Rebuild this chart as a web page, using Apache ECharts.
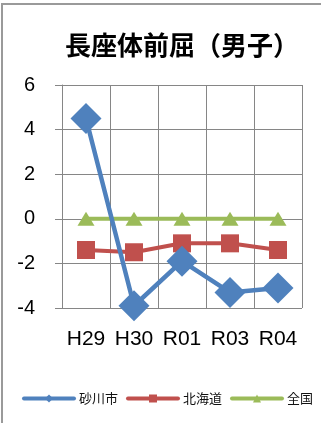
<!DOCTYPE html>
<html>
<head>
<meta charset="utf-8">
<style>
  html, body { margin: 0; padding: 0; background: #fff; }
  #chart { width: 321px; height: 423px; }
</style>
<script src="https://cdn.jsdelivr.net/npm/echarts@6/dist/echarts.min.js"></script>
</head>
<body>
<div id="chart"></div>
<script>
// 長座体前屈（男子）: 全国平均との差
const years = ['H29', 'H30', 'R01', 'R03', 'R04'];
const sunagawa = [4.5, -3.9, -1.9, -3.3, -3.1];
const hokkaido = [-1.4, -1.5, -1.1, -1.1, -1.4];
const zenkoku = [0, 0, 0, 0, 0];
const yTicks = { min: -4, max: 6, interval: 2 };

const chart = echarts.init(document.getElementById('chart'));
const font = '"Liberation Sans", "Noto Sans CJK JP", sans-serif';
const jpFont = '"Noto Sans CJK JP", sans-serif';

chart.setOption({
  animation: false,
  backgroundColor: '#fff',
  title: {
    text: '長座体前屈（男子）',
    left: 60,
    top: 27,
    textStyle: { fontFamily: jpFont, fontSize: 26, fontWeight: 'bold', color: '#000' }
  },
  graphic: [{
    type: 'rect',
    shape: { x: 2, y: 4, width: 340, height: 440 },
    style: { fill: 'none', stroke: '#9a9a9a', lineWidth: 2 },
    silent: true
  }],
  grid: { left: 62, right: 19, top: 85, bottom: 115 },
  legend: {
    bottom: 18,
    left: 22,
    width: 300,
    padding: 0,
    itemWidth: 50,
    itemHeight: 10,
    itemGap: 8,
    lineStyle: { width: 4, cap: 'round' },
    textStyle: { fontFamily: jpFont, fontSize: 13, color: '#111' },
    data: ['砂川市', '北海道', '全国']
  },
  xAxis: {
    type: 'category',
    data: years,
    boundaryGap: true,
    axisLine: { lineStyle: { color: '#868686', width: 1 } },
    axisTick: { show: false },
    splitLine: { show: true, interval: 0, lineStyle: { color: '#868686', width: 1 } },
    axisLabel: { interval: 0, fontFamily: font, fontSize: 21, color: '#000', margin: 21 }
  },
  yAxis: {
    type: 'value',
    min: yTicks.min,
    max: yTicks.max,
    interval: yTicks.interval,
    axisLine: { show: true, lineStyle: { color: '#868686', width: 1 } },
    axisTick: { show: true, inside: false, length: 7, lineStyle: { color: '#868686' } },
    splitLine: { show: true, lineStyle: { color: '#868686', width: 1 } },
    axisLabel: { fontFamily: font, fontSize: 20, color: '#000', margin: 27 }
  },
  series: [
    {
      name: '全国',
      type: 'line',
      data: zenkoku,
      symbol: 'triangle',
      symbolSize: [17, 14],
      z: 2,
      lineStyle: { color: '#9BBB59', width: 4 },
      itemStyle: { color: '#9BBB59' }
    },
    {
      name: '北海道',
      type: 'line',
      data: hokkaido,
      symbol: 'rect',
      symbolSize: 18,
      z: 3,
      lineStyle: { color: '#C0504D', width: 4 },
      itemStyle: { color: '#C0504D' }
    },
    {
      name: '砂川市',
      type: 'line',
      data: sunagawa,
      symbol: 'diamond',
      symbolSize: 31,
      z: 4,
      lineStyle: { color: '#4F81BD', width: 4.5 },
      itemStyle: { color: '#4F81BD' }
    }
  ]
});
</script>
</body>
</html>
